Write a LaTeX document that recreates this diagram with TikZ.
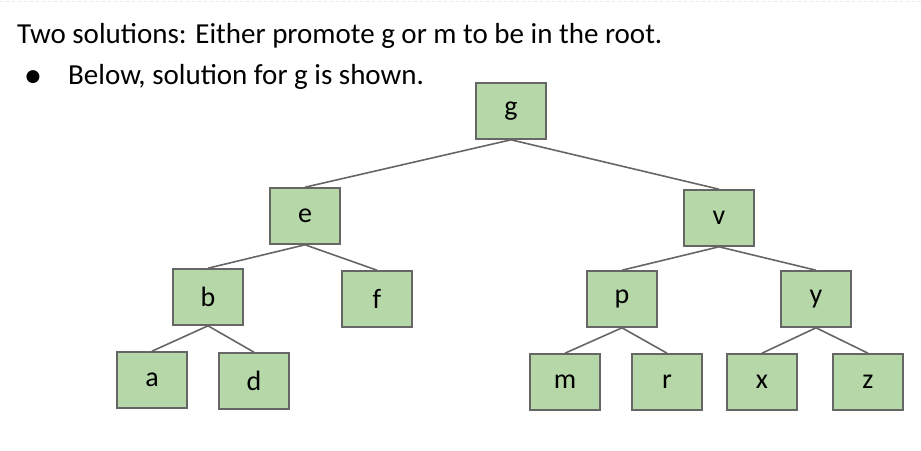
\documentclass[tikz,border=0pt]{standalone}
\usepackage{fontspec}
\setmainfont{Carlito}
\newfontfamily\symfont{DejaVu Sans}
\definecolor{boxfill}{HTML}{B6D7A8}
\definecolor{boxline}{HTML}{666666}
\definecolor{rulecol}{HTML}{DCE9F5}

\begin{document}
\begin{tikzpicture}[x=1pt,y=-1pt,
    tnode/.style={draw=boxline,fill=boxfill,line width=1.6pt,minimum width=70pt,
      minimum height=56pt,inner sep=0pt,font=\fontsize{28}{32}\selectfont},
    tedge/.style={draw=boxline,line width=1.6pt},
    txt/.style={anchor=base west,inner sep=0pt,font=\fontsize{29}{33}\selectfont}]
    \useasboundingbox (0,0) rectangle (921,450);
    \draw[rulecol,dashed,line width=1pt] (0,1) -- (921,1);

    \node[txt] (title) at (17,43) {Two solutions: Either promote g or m to be in the root.};
    \node[inner sep=0pt,font=\symfont\fontsize{17}{19}\selectfont] (dot) at (33,77) {●};
    \node[txt] (below) at (68,84) {Below, solution for g is shown.};

    % the tree
    \node[tnode] (g) at (511,111) {g};
    \node[tnode] (e) at (305,216) {e};
    \node[tnode] (v) at (719,218) {v};
    \node[tnode] (b) at (208,297) {b};
    \node[tnode] (f) at (377,299) {f};
    \node[tnode] (p) at (622,299) {p};
    \node[tnode] (y) at (816,299) {y};
    \node[tnode] (a) at (152,380) {a};
    \node[tnode] (d) at (254,381) {d};
    \node[tnode] (m) at (565,382) {m};
    \node[tnode] (r) at (667,382) {r};
    \node[tnode] (x) at (762,382) {x};
    \node[tnode] (z) at (868,382) {z};

    \path[tedge] (g.south) -- (e.north);
    \path[tedge] (g.south) -- (v.north);
    \path[tedge] (e.south) -- (b.north);
    \path[tedge] (e.south) -- (f.north);
    \path[tedge] (v.south) -- (p.north);
    \path[tedge] (v.south) -- (y.north);
    \path[tedge] (b.south) -- (a.north);
    \path[tedge] (b.south) -- (d.north);
    \path[tedge] (p.south) -- (m.north);
    \path[tedge] (p.south) -- (r.north);
    \path[tedge] (y.south) -- (x.north);
    \path[tedge] (y.south) -- (z.north);
\end{tikzpicture}
\end{document}
